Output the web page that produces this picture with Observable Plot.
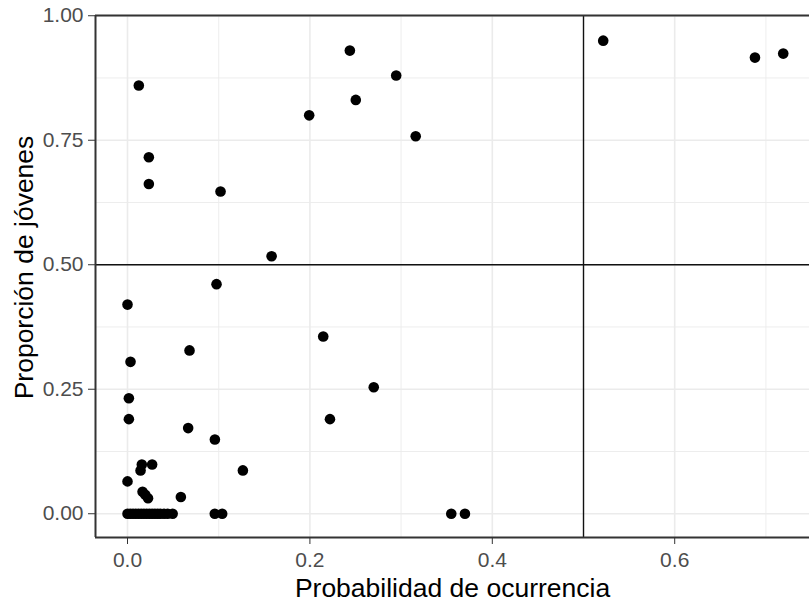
<!DOCTYPE html>
<html><head><meta charset="utf-8">
<script src="https://cdn.jsdelivr.net/npm/d3@7"></script>
<script src="https://cdn.jsdelivr.net/npm/@observablehq/plot@0.6"></script>
<style>body{margin:0;background:#fff;overflow:hidden} svg{display:block}</style>
</head><body><div id="chart"></div>
<script>
const probabilidad = [
  0.0124, 0.0234, 0.0234, 0.102, 0.158, 0.0976, 0.000, 0.0033, 0.068, 0.0015,
  0.0015, 0.0665, 0.0958, 0.1265, 0.000, 0.0143, 0.0157, 0.027, 0.0165, 0.0195,
  0.0225, 0.0585, 0.2146, 0.270, 0.222, 0.355, 0.370, 0.2438, 0.2946, 0.2503,
  0.1992, 0.316, 0.5216, 0.688, 0.719,
  0.000, 0.003, 0.006, 0.009, 0.012, 0.015, 0.018, 0.021, 0.024, 0.027,
  0.030, 0.033, 0.036, 0.040, 0.044, 0.0495, 0.0957, 0.1038
];
const proporcion = [
  0.860, 0.716, 0.662, 0.647, 0.517, 0.461, 0.420, 0.305, 0.328, 0.232,
  0.190, 0.172, 0.149, 0.087, 0.065, 0.087, 0.099, 0.099, 0.044, 0.038,
  0.031, 0.0335, 0.356, 0.254, 0.190, 0.000, 0.000, 0.930, 0.880, 0.831,
  0.800, 0.758, 0.950, 0.916, 0.924,
  0, 0, 0, 0, 0, 0, 0, 0, 0, 0,
  0, 0, 0, 0, 0, 0, 0, 0
];
const xTicks = [0, 0.2, 0.4, 0.6];
const xMinor = [0.1, 0.3, 0.5, 0.7];
const yTicks = [0, 0.25, 0.5, 0.75, 1];
const yMinor = [0.125, 0.375, 0.625, 0.875];
const xTickLabels = ["0.0", "0.2", "0.4", "0.6"];
const yTickLabels = ["0.00", "0.25", "0.50", "0.75", "1.00"];
const refX = [0.5];
const refY = [0.5];
const xTitle = "Probabilidad de ocurrencia";
const yTitle = "Proporción de jóvenes";
const xDomain = [-0.0351, 0.7478];
const yDomain = [-0.0477, 1.0005];

const data = probabilidad.map((x, i) => ({x, y: proporcion[i]}));

const chart = Plot.plot({
  width: 809, height: 601,
  marginTop: 15, marginLeft: 95, marginRight: 0, marginBottom: 64,
  style: {fontFamily: "'Liberation Sans', Arial, sans-serif", background: "#fff"},
  x: {domain: xDomain},
  y: {domain: yDomain},
  marks: [
    Plot.ruleX(xMinor, {stroke: "#ebebeb", strokeWidth: 0.9}),
    Plot.ruleY(yMinor, {stroke: "#ebebeb", strokeWidth: 0.9}),
    Plot.ruleX(xTicks, {stroke: "#ebebeb", strokeWidth: 1.6}),
    Plot.ruleY(yTicks, {stroke: "#ebebeb", strokeWidth: 1.6}),
    Plot.ruleY(refY, {stroke: "#111", strokeWidth: 1.4}),
    Plot.ruleX(refX, {stroke: "#111", strokeWidth: 1.4}),
    Plot.dot(data, {x: "x", y: "y", r: 5.3, fill: "black", stroke: "none"}),
    Plot.ruleY([yDomain[1]], {stroke: "#333", strokeWidth: 2}),
    Plot.ruleY([yDomain[0]], {stroke: "#333", strokeWidth: 2}),
    Plot.ruleX([xDomain[0]], {stroke: "#333", strokeWidth: 2}),
    Plot.axisX(xTicks, {
      tickFormat: d => xTickLabels[xTicks.indexOf(d)],
      tickSize: 7, tickPadding: 8, fontSize: 21,
      stroke: "#333", fill: "#4d4d4d", label: null
    }),
    Plot.axisY(yTicks, {
      tickFormat: d => yTickLabels[yTicks.indexOf(d)],
      tickSize: 7, tickPadding: 5, fontSize: 21,
      stroke: "#333", fill: "#4d4d4d", label: null
    }),
    Plot.text([xTitle], {frameAnchor: "bottom", lineAnchor: "bottom", dy: 59, fontSize: 26.5, fill: "black"}),
    Plot.text([yTitle], {frameAnchor: "left", textAnchor: "middle", rotate: -90, lineAnchor: "bottom", dx: -63, dy: -9, fontSize: 26.5, fill: "black"})
  ]
});
document.getElementById("chart").appendChild(chart);
</script>
</body></html>
